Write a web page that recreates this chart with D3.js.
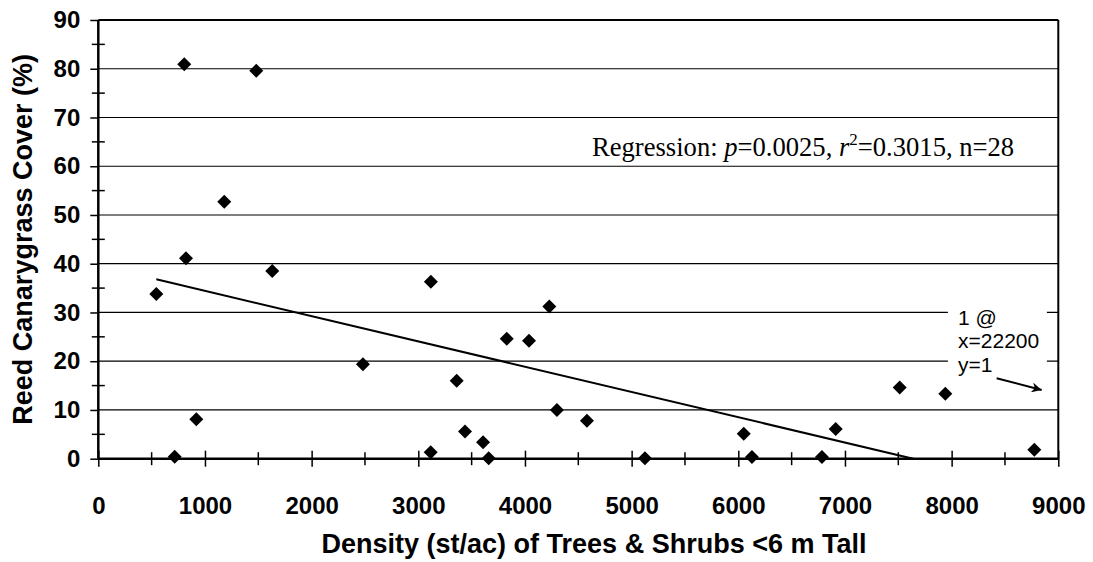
<!DOCTYPE html>
<html>
<head>
<meta charset="utf-8">
<script src="https://cdn.jsdelivr.net/npm/d3@7/dist/d3.min.js"></script>
<style>
  html, body { margin: 0; padding: 0; background: #fff; }
  svg { display: block; }
</style>
</head>
<body>
<svg id="chart" width="1093" height="562"></svg>
<script>
// Shrub/tree density (stems per acre) vs. reed canarygrass cover (%)
const density = [544, 716, 806, 822, 919, 1181, 1481, 1631, 2481, 3118, 3116, 3360, 3438, 3607,
                 3660, 3829, 4038, 4228, 4300, 4581, 5125, 6051, 6128, 6784, 6913, 7513, 7941, 8775];
const cover   = [33.8, 0.4, 80.9, 41.1, 8.1, 52.7, 79.6, 38.5, 19.4, 36.3, 1.3, 16.0, 5.6, 3.4,
                 0.1, 24.6, 24.2, 31.2, 10.0, 7.8, 0.1, 5.1, 0.35, 0.35, 6.1, 14.6, 13.3, 1.85];

// Off-scale observation noted in the annotation
const outlier = { x: 22200, y: 1 };

// Fitted linear trend
const fitIntercept = 39.62;
const fitSlope = -0.005186;

const xTicks = [0, 1000, 2000, 3000, 4000, 5000, 6000, 7000, 8000, 9000];
const xMinorTicks = [500, 1500, 2500, 3500, 4500, 5500, 6500, 7500, 8500];
const yTicks = [0, 10, 20, 30, 40, 50, 60, 70, 80, 90];
const yMinorTicks = [5, 15, 25, 35, 45, 55, 65, 75, 85];

const svg = d3.select("#chart");
const plotLeft = 98.3, plotRight = 1058.3, plotTop = 20, plotBottom = 458.7;

const x = d3.scaleLinear().domain([0, 9000]).range([plotLeft, plotRight]);
const y = d3.scaleLinear().domain([0, 90]).range([plotBottom, plotTop]);

const sans = "'Liberation Sans', Arial, sans-serif";
const serif = "'Liberation Serif', 'Times New Roman', serif";

// Horizontal gridlines
svg.append("g").selectAll("line")
  .data(yTicks.filter(d => d > 0 && d < 90))
  .join("line")
  .attr("x1", plotLeft).attr("x2", plotRight)
  .attr("y1", d => y(d)).attr("y2", d => y(d))
  .attr("stroke", "#000").attr("stroke-width", 1.2);

// Plot frame (top and right)
svg.append("line").attr("x1", plotLeft).attr("x2", plotRight).attr("y1", y(90)).attr("y2", y(90))
  .attr("stroke", "#000").attr("stroke-width", 2);
svg.append("line").attr("x1", x(9000)).attr("x2", x(9000)).attr("y1", y(90)).attr("y2", y(0))
  .attr("stroke", "#000").attr("stroke-width", 2);

// Y axis: major ticks outside, minor ticks crossing
const yAxis = svg.append("g").attr("transform", `translate(${plotLeft},0)`)
  .call(d3.axisLeft(y).tickValues(yTicks).tickSize(8).tickPadding(10).tickFormat(d3.format("d")));
yAxis.select(".domain").remove();
yAxis.selectAll(".tick line").attr("stroke", "#000").attr("stroke-width", 1.5);
yAxis.selectAll(".tick text")
  .attr("font-family", sans).attr("font-weight", "bold").attr("font-size", 24).attr("fill", "#000");
svg.append("g").selectAll("line").data(yMinorTicks).join("line")
  .attr("x1", plotLeft - 6.5).attr("x2", plotLeft + 6.5)
  .attr("y1", d => y(d)).attr("y2", d => y(d))
  .attr("stroke", "#000").attr("stroke-width", 1.5);
svg.append("line").attr("x1", plotLeft).attr("x2", plotLeft).attr("y1", y(90)).attr("y2", y(0))
  .attr("stroke", "#000").attr("stroke-width", 2.5);

// X axis: ticks crossing the axis line
const xAxis = svg.append("g").attr("transform", `translate(0,${plotBottom})`)
  .call(d3.axisBottom(x).tickValues(xTicks).tickSize(8).tickPadding(38).tickFormat(d3.format("d")));
xAxis.select(".domain").remove();
xAxis.selectAll(".tick line").attr("y1", -8).attr("stroke", "#000").attr("stroke-width", 1.5);
xAxis.selectAll(".tick text")
  .attr("font-family", sans).attr("font-weight", "bold").attr("font-size", 24).attr("fill", "#000")
  .attr("dy", 0).attr("y", 514 - plotBottom);
svg.append("g").selectAll("line").data(xMinorTicks).join("line")
  .attr("x1", d => x(d)).attr("x2", d => x(d))
  .attr("y1", plotBottom - 6.5).attr("y2", plotBottom + 6.5)
  .attr("stroke", "#000").attr("stroke-width", 1.5);
svg.append("line").attr("x1", plotLeft).attr("x2", plotRight).attr("y1", y(0)).attr("y2", y(0))
  .attr("stroke", "#000").attr("stroke-width", 2.5);

// Regression line, limited to the 0% floor
const xStart = d3.min(density);
const xEnd = Math.min(d3.max(density), -fitIntercept / fitSlope);
svg.append("line")
  .attr("x1", x(xStart)).attr("y1", y(fitIntercept + fitSlope * xStart))
  .attr("x2", x(xEnd)).attr("y2", y(fitIntercept + fitSlope * xEnd))
  .attr("stroke", "#000").attr("stroke-width", 2);

// Observations as black diamonds
const diamond = d3.symbol().type(d3.symbolSquare).size(98);
svg.append("g").selectAll("path")
  .data(density.map((d, i) => [d, cover[i]]))
  .join("path")
  .attr("d", diamond)
  .attr("transform", d => `translate(${x(d[0])},${y(d[1])}) rotate(45)`)
  .attr("fill", "#000");

// Regression statistics
const stat = svg.append("text")
  .attr("x", 592).attr("y", 156)
  .attr("font-family", serif).attr("font-size", 26.6).attr("fill", "#000");
stat.append("tspan").text("Regression: ");
stat.append("tspan").attr("font-style", "italic").text("p");
stat.append("tspan").text("=0.0025, ");
stat.append("tspan").attr("font-style", "italic").text("r");
stat.append("tspan").attr("font-size", 17).attr("dy", -11).text("2");
stat.append("tspan").attr("dy", 11).text("=0.3015, n=28");

// Note for the off-scale point
svg.append("rect")
  .attr("x", x(7965)).attr("y", y(32.5))
  .attr("width", x(8893) - x(7965)).attr("height", y(17.6) - y(32.5))
  .attr("fill", "#fff");
const note = svg.append("text")
  .attr("font-family", sans).attr("font-size", 21).attr("fill", "#000");
[["1 @", 27.4], [`x=${outlier.x}`, 22.7], [`y=${outlier.y}`, 17.8]].forEach(([t, v]) => {
  note.append("tspan").attr("x", x(8060)).attr("y", y(v)).text(t);
});
svg.append("defs").append("marker")
  .attr("id", "arrowhead").attr("viewBox", "0 0 10 10")
  .attr("refX", 10).attr("refY", 5)
  .attr("markerWidth", 10).attr("markerHeight", 10).attr("markerUnits", "userSpaceOnUse")
  .attr("orient", "auto")
  .append("path").attr("d", "M0,0 L10,5 L0,10 L3,5 Z").attr("fill", "#000");
svg.append("line")
  .attr("x1", x(8422)).attr("y1", y(16.5))
  .attr("x2", x(8844)).attr("y2", y(14.1))
  .attr("stroke", "#000").attr("stroke-width", 2)
  .attr("marker-end", "url(#arrowhead)");

// Axis titles
svg.append("text")
  .attr("x", 594).attr("y", 553)
  .attr("text-anchor", "middle")
  .attr("font-family", sans).attr("font-weight", "bold").attr("font-size", 27).attr("fill", "#000")
  .text("Density (st/ac) of Trees & Shrubs <6 m Tall");
svg.append("text")
  .attr("transform", `translate(32,${(plotTop + plotBottom) / 2}) rotate(-90)`)
  .attr("text-anchor", "middle")
  .attr("font-family", sans).attr("font-weight", "bold").attr("font-size", 27).attr("fill", "#000")
  .text("Reed Canarygrass Cover (%)");
</script>
</body>
</html>
